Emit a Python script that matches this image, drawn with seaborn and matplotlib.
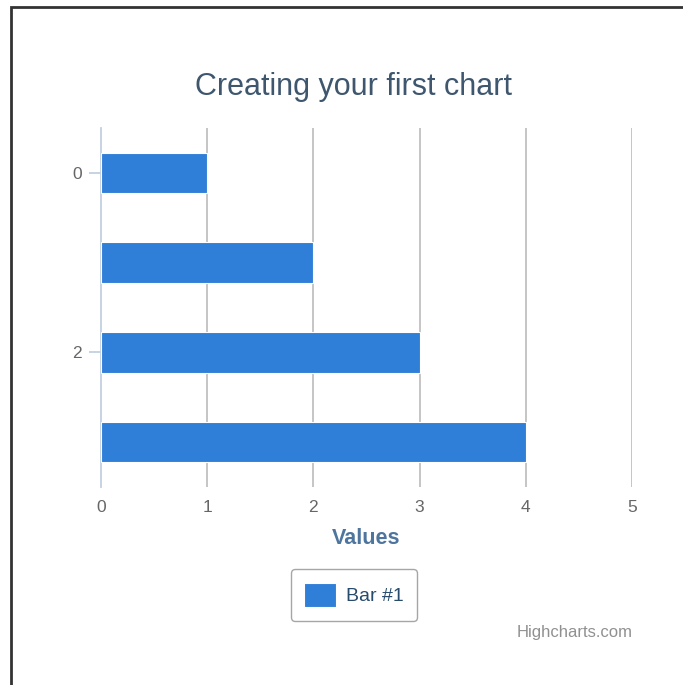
import matplotlib
matplotlib.use("Agg")
import matplotlib.pyplot as plt
import seaborn as sns
import pandas as pd
from matplotlib.patches import Rectangle

# data
categories = ["0", "1", "2", "3"]
values = [1, 2, 3, 4]
series_name = "Bar #1"
x_ticks = [0, 1, 2, 3, 4, 5]

df = pd.DataFrame({"category": categories, "value": values})

sns.set_theme(style="white")
plt.rcParams["font.family"] = ["Liberation Sans", "DejaVu Sans"]

fig = plt.figure(figsize=(6.83, 6.85), dpi=100)
ax = fig.add_axes([101 / 683, 1 - 487 / 685, 531 / 683, 359 / 685])

sns.barplot(data=df, x="value", y="category", orient="h", color="#2f7ed8",
            saturation=1, width=0.45, edgecolor="#ffffff", linewidth=0.8,
            label=series_name, ax=ax, zorder=3)

ax.set_xlim(0, 5)
ax.set_ylim(3.5, -0.5)
ax.set_xticks(x_ticks)
ax.set_xticklabels([str(t) for t in x_ticks])
ax.set_yticks([0, 2])
ax.set_yticklabels(["0", "2"])

# vertical gridlines
for t in x_ticks[1:]:
    ax.axvline(t, color="#c0c0c0", lw=1.3, zorder=1)

for s in ["top", "right", "bottom"]:
    ax.spines[s].set_visible(False)
ax.spines["left"].set_color("#c0d0e0")
ax.spines["left"].set_linewidth(1.3)

ax.tick_params(axis="y", length=9, width=1.3, color="#c0d0e0", labelcolor="#666666",
               labelsize=12.5, pad=5, left=True)
ax.tick_params(axis="x", length=0, labelcolor="#666666", labelsize=12.5, pad=9)

ax.set_ylabel("")
ax.set_xlabel("Values", color="#4d759e", fontsize=15.5, fontweight="bold", labelpad=10)

fig.text(353 / 683, 1 - 87 / 685, "Creating your first chart", ha="center", va="center",
         color="#3e576f", fontsize=22)

leg = ax.legend(loc="center", bbox_to_anchor=(354 / 683, 1 - 595 / 685),
                bbox_transform=fig.transFigure, frameon=True, fontsize=14,
                handlelength=1.65, handleheight=1.6, borderpad=0.7, handletextpad=0.5,
                borderaxespad=0, fancybox=True, labelcolor="#274b6d")
leg.get_frame().set_edgecolor("#909090")
leg.get_frame().set_linewidth(1.0)

fig.text(633 / 683, 1 - 633 / 685, "Highcharts.com", ha="right", va="center",
         color="#909090", fontsize=12)

# outer border
fig.patches.append(Rectangle((10.5 / 683, -0.05), 1.0, 1 - 6.5 / 685 + 0.05,
                             transform=fig.transFigure, fill=False,
                             edgecolor="#333333", linewidth=2))

fig.savefig("out.png", dpi=100)
